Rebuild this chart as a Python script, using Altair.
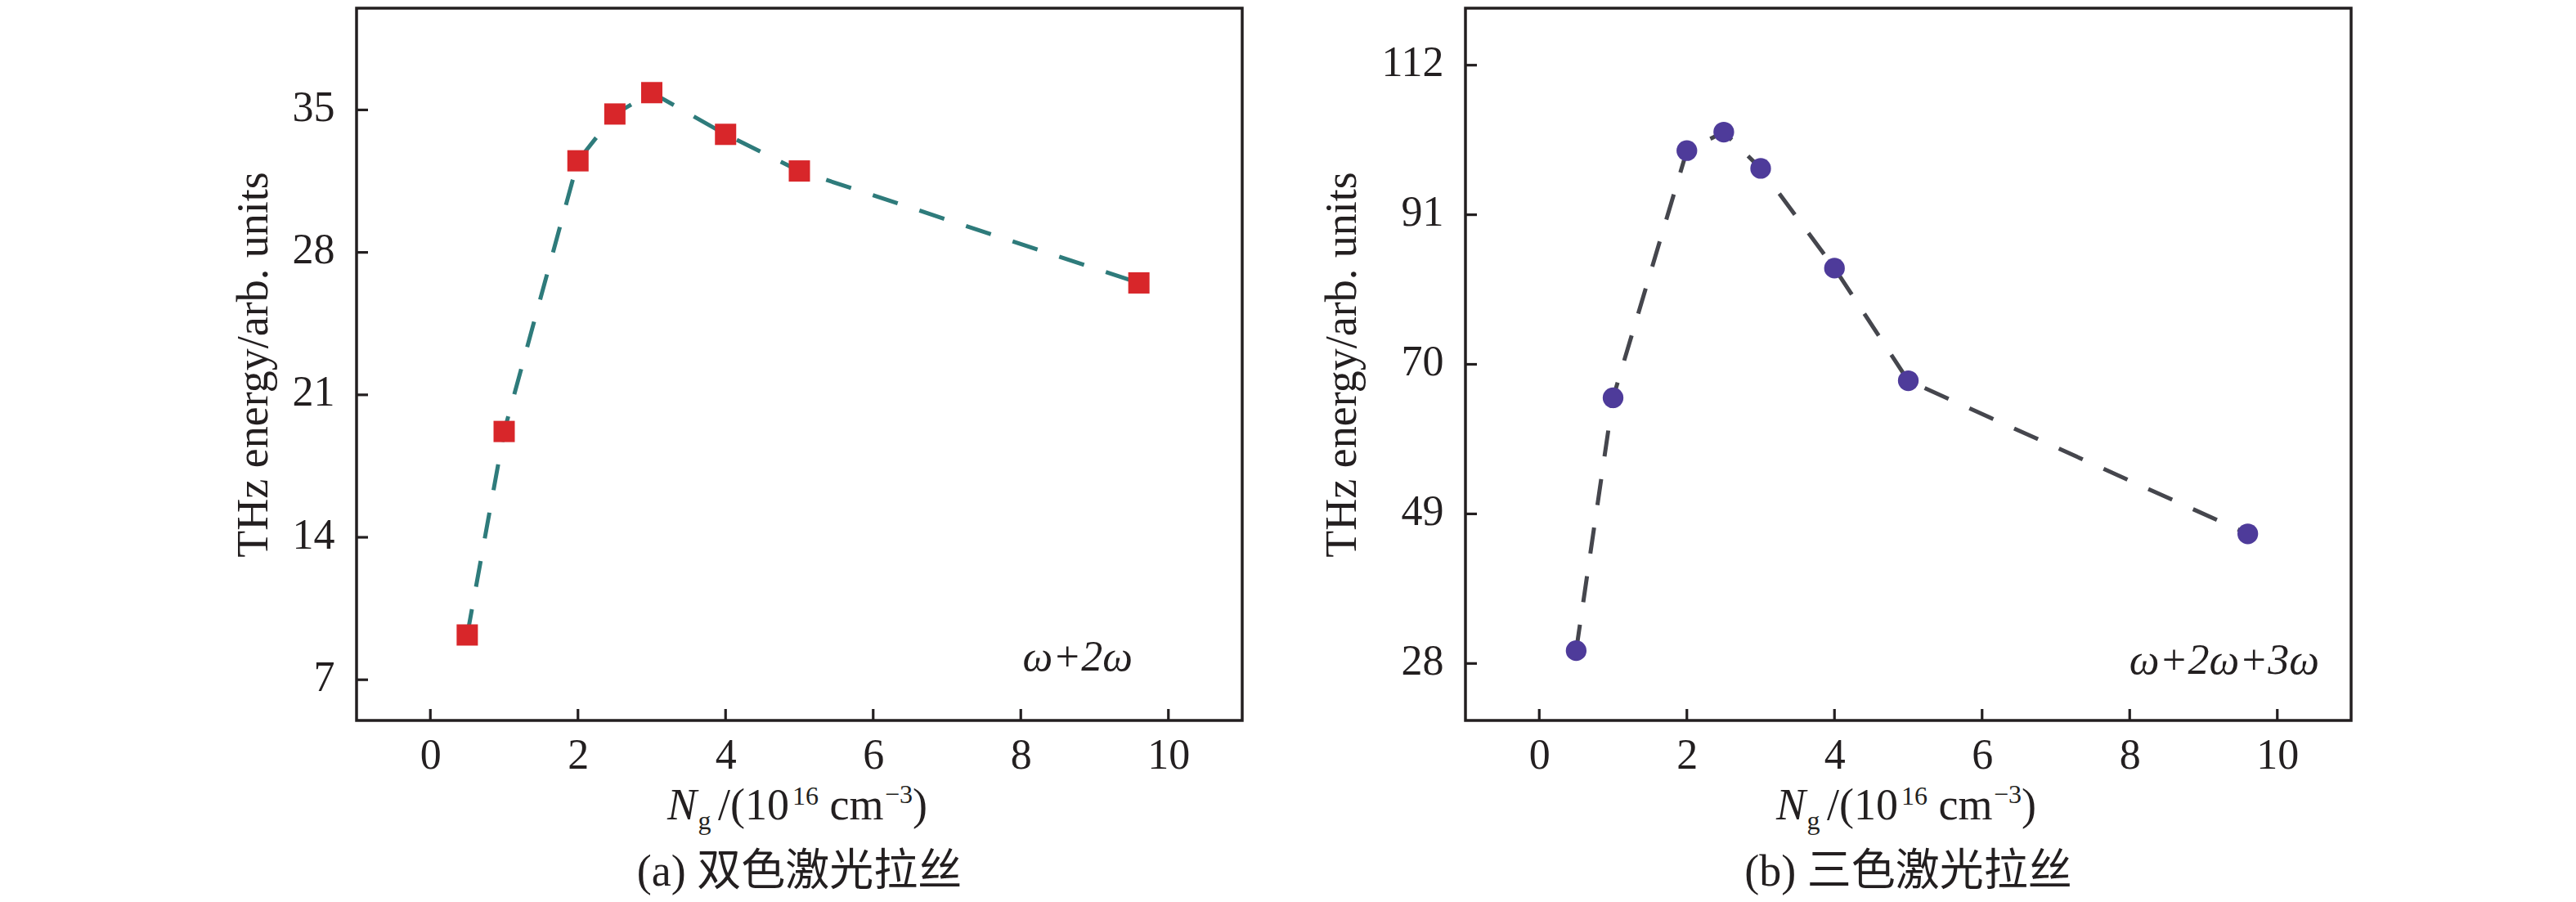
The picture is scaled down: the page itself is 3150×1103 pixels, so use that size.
import altair as alt
import pandas as pd

# ---- data ----
ng = [0.5, 1, 2, 2.5, 3, 4, 5, 9.6]
energy_a = [9.2, 19.2, 32.5, 34.8, 35.85, 33.8, 32.0, 26.5]
energy_b = [29.8, 65.3, 100.0, 102.6, 97.5, 83.5, 67.7, 46.2]
x_ticks = [0, 2, 4, 6, 8, 10]
y_ticks_a = [7, 14, 21, 28, 35]
y_ticks_b = [28, 49, 70, 91, 112]
y_title = "THz energy/arb. units"
captions = ["(a) 双色激光拉丝", "(b) 三色激光拉丝"]
labels = ["ω+2ω", "ω+2ω+3ω"]

W, H = 1083, 871
SERIF = "Liberation Serif"
CAPFONT = "Liberation Serif, Noto Sans CJK SC"
INK = "#231f20"
one = pd.DataFrame({"k": [0]})


def txt(t, x, y, size, style="normal", align="left", font=SERIF):
    return alt.Chart(one).mark_text(
        font=font, fontSize=size, fontStyle=style, align=align,
        baseline="alphabetic", color=INK
    ).encode(x=alt.value(x), y=alt.value(y), text=alt.value(t))


def panel(yvals, ydomain, yticks, caption, label, label_x, label_y,
          shape, mcolor, msize, lcolor):
    df = pd.DataFrame({"ng": ng, "e": yvals})
    xs = alt.Scale(domain=[-1, 11], nice=False, zero=False)
    ys = alt.Scale(domain=ydomain, nice=False, zero=False)
    xaxis = alt.Axis(values=x_ticks, title=None, ticks=False, tickSize=0,
                     domain=False, grid=False, labelFontSize=52,
                     labelFont=SERIF, labelColor=INK, labelPadding=17,
                     labelFlush=False)
    yaxis = alt.Axis(values=yticks, title=y_title, ticks=False, tickSize=0,
                     domain=False, grid=False, labelFontSize=52,
                     labelFont=SERIF, labelColor=INK, labelPadding=27,
                     labelOffset=-3,
                     titleFontSize=54, titleFont=SERIF,
                     titleFontWeight="normal", titleColor=INK,
                     titlePadding=20)
    base = alt.Chart(df).encode(
        x=alt.X("ng:Q", scale=xs, axis=xaxis),
        y=alt.Y("e:Q", scale=ys, axis=yaxis),
    )
    line = base.mark_line(color=lcolor, strokeWidth=5, strokeDash=[32, 28])
    pts = base.mark_point(shape=shape, filled=True, size=msize,
                          color=mcolor, opacity=1)
    ytk = alt.Chart(pd.DataFrame({"v": yticks})).mark_rule(
        color=INK, strokeWidth=3.2
    ).encode(y=alt.Y("v:Q", scale=ys, axis=yaxis),
             x=alt.value(0), x2=alt.value(14))
    xtk = alt.Chart(pd.DataFrame({"v": x_ticks})).mark_rule(
        color=INK, strokeWidth=3.2
    ).encode(x=alt.X("v:Q", scale=xs, axis=xaxis),
             y=alt.value(H), y2=alt.value(H - 14))

    cx = W / 2
    pieces = [
        txt("N", cx - 161.5, 992, 54, style="italic"),
        txt("g", cx - 124, 1004, 32),
        txt("/(10", cx - 99.5, 992, 54),
        txt("16", cx - 8.5, 974, 32),
        txt("cm", cx + 37, 992, 54),
        txt("−3", cx + 104.5, 972, 32),
        txt(")", cx + 138.5, 992, 54),
        txt(caption, cx, 1073, 54, align="center", font=CAPFONT),
        txt(label, label_x, label_y, 52, style="italic", align="right"),
    ]
    return alt.layer(line, pts, ytk, xtk, *pieces).properties(width=W, height=H)


left = panel(energy_a, [5, 40], y_ticks_a, captions[0], labels[0], 949, 810,
             "square", "#d8262a", 676, "#2e7b7b")
right = panel(energy_b, [20, 120], y_ticks_b, captions[1], labels[1], 1044, 814,
              "circle", "#4e3b9a", 640, "#45464d")

chart = alt.hconcat(left, right, spacing=92).configure_view(
    stroke=INK, strokeWidth=3.5
).properties(
    padding={"left": 273, "top": 0, "right": 0, "bottom": 0}
)

chart.save("out.html", embed_options={"renderer": "svg", "actions": False})
